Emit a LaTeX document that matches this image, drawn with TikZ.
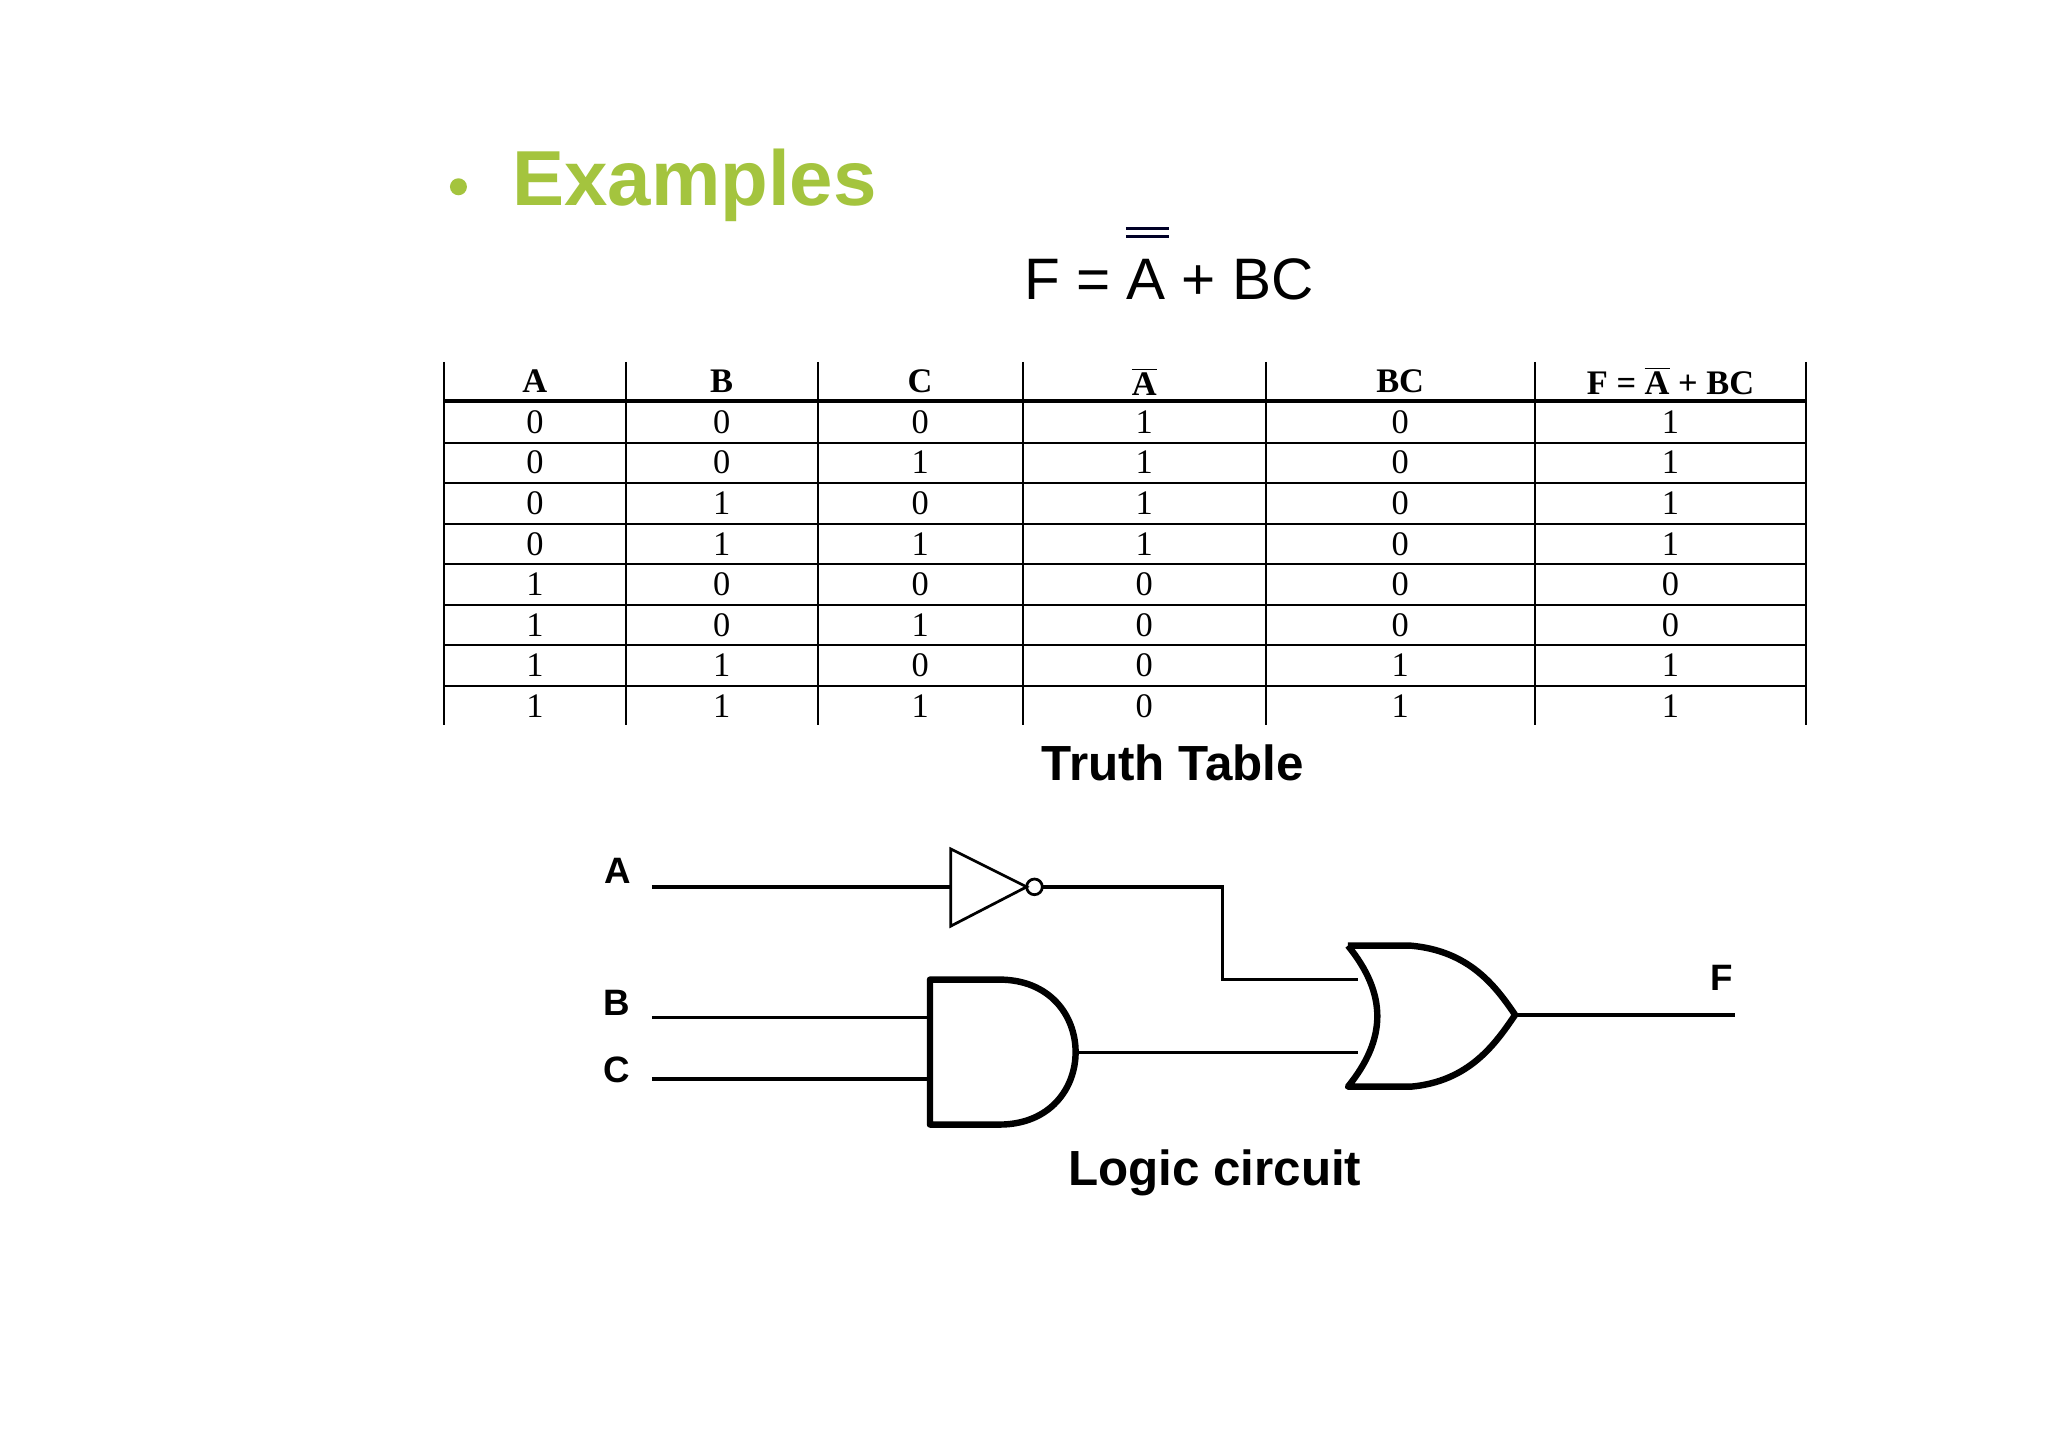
\documentclass[tikz,border=0pt]{standalone}
\usepackage{fontspec}
\setmainfont{Liberation Serif}
\newfontfamily\arial{Liberation Sans}
\definecolor{lime}{RGB}{164,196,62}
\begin{document}
\begin{tikzpicture}[x=0.02cm,y=-0.02cm,
  wire/.style={line width=1.5pt},
  gate/.style={line width=2.8pt,line join=round},
  cell/.style={inner sep=0pt,anchor=center,font=\fontsize{15}{15}\selectfont},
  hcell/.style={cell,font=\fontsize{15}{15}\selectfont\bfseries},
  lbl/.style={inner sep=0pt,font=\arial\bfseries\fontsize{16}{16}\selectfont},
  captext/.style={inner sep=0pt,font=\arial\bfseries\fontsize{21.5}{22}\selectfont}]
\useasboundingbox[fill=white] (0,0) rectangle (1568,1108.6);
% title
\fill[lime] (351,143) circle (6.5);
\node[anchor=west,inner sep=0pt,text=lime,font=\arial\bfseries\fontsize{34}{34}\selectfont] (title) at (392,142) {Examples};
% formula
\node[inner sep=0pt,font=\arial\fontsize{25.5}{26}\selectfont] (formula) at (895,214) {F = A + BC};
\draw[line width=1.5pt,draw=black!85!blue] (862,175) -- (895,175) (862,181) -- (895,181);
% table
\foreach \x in {340,479,626,783,969,1175,1383} \draw[line width=0.8pt] (\x,277) -- (\x,555);
\draw[line width=1.6pt] (340,307) -- (1383,307);
\foreach \y in {339,370,401,432,463,494,525} \draw[line width=1pt] (340,\y) -- (1383,\y);
\node[hcell] (h1) at (409.5,292) {A};
\node[hcell] (h2) at (552.5,292) {B};
\node[hcell] (h3) at (704.5,292) {C};
\node[hcell] (h4) at (876,292) {$\overline{\mbox{\bfseries A}}$};
\node[hcell] (h5) at (1072,292) {BC};
\node[hcell] (h6) at (1279,292) {F = $\overline{\mbox{\bfseries A}}$ + BC};
\foreach \r/\a/\b/\c/\na/\bc/\f [count=\i] in {0/0/0/0/1/0/1, 1/0/0/1/1/0/1, 2/0/1/0/1/0/1, 3/0/1/1/1/0/1, 4/1/0/0/0/0/0, 5/1/0/1/0/0/0, 6/1/1/0/0/1/1, 7/1/1/1/0/1/1}{
  \pgfmathsetmacro\yy{323+31.1*\r}
  \node[cell] (r\i a) at (409.5,\yy) {\a};
  \node[cell] (r\i b) at (552.5,\yy) {\b};
  \node[cell] (r\i c) at (704.5,\yy) {\c};
  \node[cell] (r\i d) at (876,\yy) {\na};
  \node[cell] (r\i e) at (1072,\yy) {\bc};
  \node[cell] (r\i f) at (1279,\yy) {\f};
}
\node[captext] (tt) at (898,584) {Truth Table};
% circuit labels
\node[lbl] (la) at (473,667) {A};
\node[lbl] (lb) at (472,768) {B};
\node[lbl] (lc) at (472,819) {C};
\node[lbl] (lf) at (1318,749) {F};
% coordinates
\coordinate (ain) at (499,679);
\coordinate (bin) at (499,779);
\coordinate (cin) at (499,826);
\coordinate (notin) at (728,679);
\coordinate (notout) at (798,679);
\coordinate (bend1) at (936,679);
\coordinate (bend2) at (936,750);
\coordinate (or1) at (1040,750);
\coordinate (or2) at (1040,806);
\coordinate (andb) at (712,779);
\coordinate (andc) at (712,826);
\coordinate (andout) at (823,806);
\coordinate (orout) at (1160,777);
\coordinate (fout) at (1328,777);
% inverter
\draw[line width=1.2pt,line join=miter] (728,650) -- (786,679) -- (728,709) -- cycle;
\draw[line width=1.2pt] (792,679) circle (6);
% AND gate
\draw[gate] (765,750) -- (712,750) -- (712,861) -- (765,861) .. controls (843,861) and (843,750) .. (765,750);
% OR gate
\draw[gate] (1032,724) -- (1080,724) .. controls (1125,728) and (1145,755) .. (1160,777)
  .. controls (1145,799) and (1125,828) .. (1080,832) -- (1032,832)
  .. controls (1062,795) and (1062,761) .. (1032,724);
% wires
\draw[wire] (ain) -- (notin);
\draw[wire] (notout) -- (bend1) -- (bend2) -- (or1);
\draw[wire] (bin) -- (andb);
\draw[wire] (cin) -- (andc);
\draw[wire] (andout) -- (or2);
\draw[wire] (orout) -- (fout);
\node[captext] (lcap) at (930,898) {Logic circuit};
\end{tikzpicture}
\end{document}
